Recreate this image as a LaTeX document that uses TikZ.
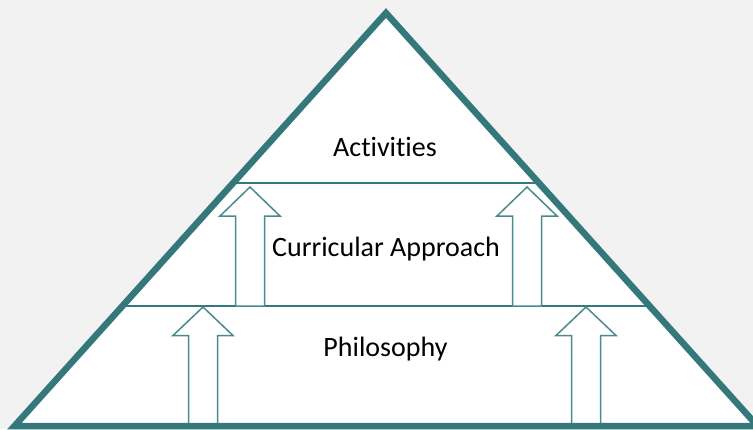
\documentclass[tikz,border=0pt]{standalone}
\usepackage{fontspec}
\setmainfont[Ligatures=NoCommon]{Carlito}
\definecolor{bgc}{HTML}{F2F2F2}
\definecolor{tealedge}{HTML}{34787B}
\definecolor{tealthin}{HTML}{4A8A8E}
\tikzset{
  layerline/.style={draw=tealedge, line width=2pt},
  blockarrow/.style={draw=tealthin, fill=white, line width=1.5pt, line join=miter},
  levellabel/.style={anchor=base, font=\fontsize{28}{32}\selectfont, text=black, inner sep=0pt}
}
% hollow upward arrow: centre x, tip y, head base y, foot y
\newcommand\uparrowshape[4]{%
  \path[blockarrow] (#1,#2) -- (#1+30,#3) -- (#1+14.5,#3) -- (#1+14.5,#4)
    -- (#1-14.5,#4) -- (#1-14.5,#3) -- (#1-30,#3) -- cycle;}
\begin{document}
\begin{tikzpicture}[x=1pt,y=-1pt]
  \useasboundingbox (0,0) rectangle (753,429);
  \clip (0,0) rectangle (753,429);
  \fill[bgc] (0,0) rectangle (753,429);
  % corners of the pyramid
  \coordinate (apex) at (386,13);
  \coordinate (bl) at (14.5,426);
  \coordinate (br) at (757.5,426);
  \fill[white] (apex) -- (bl) -- (br) -- cycle;
  % level boundaries
  \coordinate (u1) at (232.5,183);
  \coordinate (u2) at (539.5,183);
  \coordinate (l1) at (121.4,306);
  \coordinate (l2) at (650.6,306);
  \draw[layerline] (u1) -- (u2);
  \draw[layerline] (l1) -- (l2);
  % arrows between levels
  \uparrowshape{250}{187}{216}{306}
  \uparrowshape{527}{187}{216}{306}
  \uparrowshape{203}{307}{335.5}{426}
  \uparrowshape{586}{307}{335.5}{426}
  % outline
  \draw[tealedge, line width=6.5pt, line join=miter] (apex) -- (bl) -- (br) -- cycle;
  % level names
  \node[levellabel] (act) at (385,156.5) {Activities};
  \node[levellabel] (cur) at (386,256.5) {Curricular Approach};
  \node[levellabel] (phi) at (385.5,356.5) {Philosophy};
\end{tikzpicture}
\end{document}
